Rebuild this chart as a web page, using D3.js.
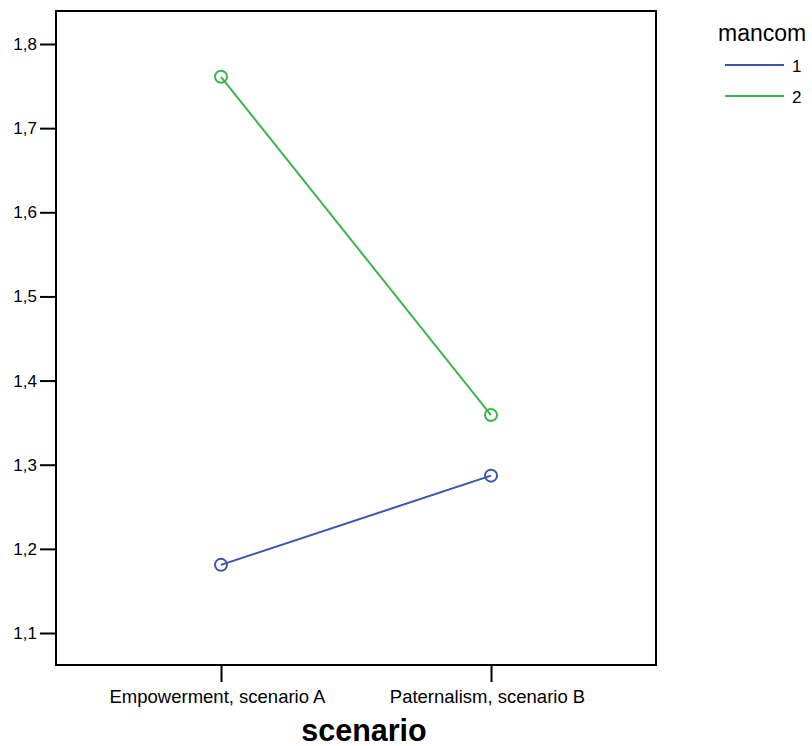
<!DOCTYPE html>
<html>
<head>
<meta charset="utf-8">
<script src="https://cdn.jsdelivr.net/npm/d3@7"></script>
<style>
  body { margin: 0; background: #fff; }
  text { font-family: "Liberation Sans", Arial, sans-serif; }
</style>
</head>
<body>
<svg id="chart" width="812" height="746"></svg>
<script>
// data
let scenarios = ['Empowerment, scenario A', 'Paternalism, scenario B'];
let groups = ['1', '2'];
let group1Values = [1.181, 1.287];
let group2Values = [1.761, 1.359];
let yTicks = [1.1, 1.2, 1.3, 1.4, 1.5, 1.6, 1.7, 1.8];
let colors = ['#3a56a8', '#3db54b'];

let series = [group1Values, group2Values];

let svg = d3.select('#chart');

let frameLeft = 56, frameRight = 656, frameTop = 11, frameBottom = 665;
let fontFamily = '"Liberation Sans", Arial, sans-serif';

let x = d3.scalePoint()
          .domain(scenarios)
          .range([221, 491]);

let y = d3.scaleLinear()
          .domain([1.1, 1.8])
          .range([633, 44]);

// frame
svg.append('rect')
   .attr('x', frameLeft)
   .attr('y', frameTop)
   .attr('width', frameRight - frameLeft)
   .attr('height', frameBottom - frameTop)
   .attr('fill', 'none')
   .attr('stroke', '#000')
   .attr('stroke-width', 2);

// y axis
let yAxis = d3.axisLeft(y)
              .tickValues(yTicks)
              .tickSize(16)
              .tickPadding(3)
              .tickFormat(d => d3.format('.1f')(d).replace('.', ','));

let gy = svg.append('g')
            .attr('transform', 'translate(' + frameLeft + ',0)')
            .call(yAxis);
gy.select('.domain').remove();
gy.selectAll('line').attr('stroke', '#000').attr('stroke-width', 2);
gy.selectAll('text')
  .attr('font-size', 17)
  .attr('fill', '#000')
  .style('font-family', fontFamily);

// x axis
let xAxis = d3.axisBottom(x)
              .tickSize(17)
              .tickPadding(8);

let gx = svg.append('g')
            .attr('transform', 'translate(0,' + frameBottom + ')')
            .call(xAxis);
gx.select('.domain').remove();
gx.selectAll('line').attr('stroke', '#000').attr('stroke-width', 2);
gx.selectAll('text')
  .attr('font-size', 18.5)
  .attr('dx', -4)
  .attr('fill', '#000')
  .style('font-family', fontFamily);

svg.append('text')
   .attr('x', 364)
   .attr('y', 741)
   .attr('text-anchor', 'middle')
   .attr('font-size', 30.5)
   .attr('font-weight', 'bold')
   .text('scenario');

// lines and markers
let line = d3.line()
             .x((d, i) => x(scenarios[i]))
             .y(d => y(d));

series.forEach(function (values, ii) {
  svg.append('path')
     .datum(values)
     .attr('d', line)
     .attr('fill', 'none')
     .attr('stroke', colors[ii])
     .attr('stroke-width', 2);

  svg.selectAll('.pt' + ii)
     .data(values)
     .enter()
     .append('circle')
     .attr('class', 'pt' + ii)
     .attr('cx', (d, i) => x(scenarios[i]))
     .attr('cy', d => y(d))
     .attr('r', 6)
     .attr('fill', 'none')
     .attr('stroke', colors[ii])
     .attr('stroke-width', 2);
});

// legend
svg.append('text')
   .attr('x', 718)
   .attr('y', 41)
   .attr('font-size', 23)
   .text('mancom');

groups.forEach(function (g, ii) {
  let ly = 65 + ii * 31;
  svg.append('line')
     .attr('x1', 725).attr('x2', 784)
     .attr('y1', ly).attr('y2', ly)
     .attr('stroke', colors[ii])
     .attr('stroke-width', 2);
  svg.append('text')
     .attr('x', 792)
     .attr('y', ly + 7)
     .attr('font-size', 17)
     .text(g);
});
</script>
</body>
</html>
